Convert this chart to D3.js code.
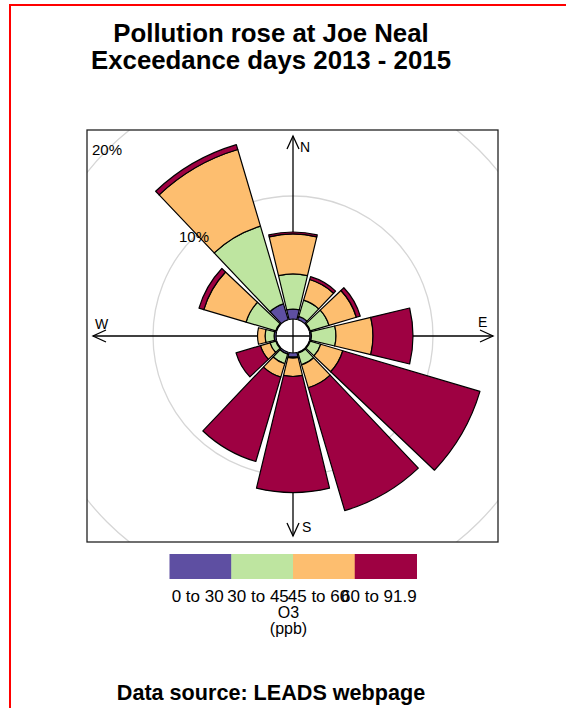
<!DOCTYPE html>
<html>
<head>
<meta charset="utf-8">
<script src="https://cdn.jsdelivr.net/npm/d3@7"></script>
<style>
  html, body { margin: 0; padding: 0; background: #ffffff; }
  svg { display: block; font-family: "Liberation Sans", Arial, sans-serif; }
</style>
</head>
<body>
<svg id="chart" width="566" height="708"></svg>
<script>
// Wind sectors (degrees clockwise from north)
const directions = [0, 30, 60, 90, 120, 150, 180, 210, 240, 270, 300, 330];

// O3 concentration bands (ppb) and their colours
const bandLabels = ["0 to 30", "30 to 45", "45 to 60", "60 to 91.9"];
const bandColors = ["#5E4FA2", "#BEE5A0", "#FDBE6F", "#9E0142"];

// Frequency (% of hours) per sector for each band
const band0to30  = [0.81, 0.28, 0.08, 0.12, 0.08, 0.08, 0.33, 0.16, 0.08, 0.16, 0.08, 1.34];
const band30to45 = [2.85, 1.38, 1.59, 1.99, 0.89, 0.98, 0.08, 0.81, 0.49, 0.73, 2.52, 6.59];
const band45to60 = [3.25, 1.75, 2.32, 3.01, 1.87, 1.95, 1.50, 1.14, 0.81, 0.61, 3.58, 6.50];
const band60to92 = [0.16, 0.24, 0.33, 3.25, 11.63, 10.41, 9.43, 7.15, 2.07, 0.00, 0.41, 0.41];

// Grid rings (%)
const gridValues = [10, 20, 30];
const gridLabels = ["10%", "20%", "30%"];

const bands = [band0to30, band30to45, band45to60, band60to92];

const svg = d3.select("#chart");

// page border
svg.append("rect")
  .attr("x", 10).attr("y", 5).attr("width", 620).attr("height", 760)
  .attr("fill", "none").attr("stroke", "#ff0000").attr("stroke-width", 2);

// titles
svg.append("text").attr("x", 271).attr("y", 42).attr("text-anchor", "middle")
  .attr("font-size", 25.8).attr("font-weight", "bold").text("Pollution rose at Joe Neal");
svg.append("text").attr("x", 271).attr("y", 68.5).attr("text-anchor", "middle")
  .attr("font-size", 25.8).attr("font-weight", "bold").text("Exceedance days 2013 - 2015");

// plot panel
const panel = { x0: 87, y0: 130, x1: 498, y1: 542 };
const cx = 293, cy = 336;

svg.append("clipPath").attr("id", "panelClip")
  .append("rect").attr("x", panel.x0).attr("y", panel.y0)
  .attr("width", panel.x1 - panel.x0).attr("height", panel.y1 - panel.y0);

// radial scale: offset hole in the middle, then linear in %
const r = d3.scaleLinear().domain([0, 20]).range([17, 263]);

const plot = svg.append("g").attr("clip-path", "url(#panelClip)");

// grid rings
plot.selectAll("circle.grid").data(gridValues).join("circle")
  .attr("class", "grid")
  .attr("cx", cx).attr("cy", cy).attr("r", d => r(d))
  .attr("fill", "none").attr("stroke", "#d6d6d6").attr("stroke-width", 1.3);

// compass axes with arrow heads
const axisLen = 200, head = 13, headW = 6;
const axes = svg.append("g").attr("stroke", "#000").attr("stroke-width", 1.3).attr("fill", "none");
axes.append("line").attr("x1", cx).attr("y1", cy - axisLen).attr("x2", cx).attr("y2", cy + axisLen);
axes.append("line").attr("x1", cx - axisLen).attr("y1", cy).attr("x2", cx + axisLen).attr("y2", cy);
[[0, -1], [0, 1], [-1, 0], [1, 0]].forEach(([dx, dy]) => {
  const tx = cx + dx * axisLen, ty = cy + dy * axisLen;
  const bx = tx - dx * head, by = ty - dy * head;
  const px = -dy * headW, py = dx * headW;
  axes.append("polyline")
    .attr("points", `${bx + px},${by + py} ${tx},${ty} ${bx - px},${by - py}`);
});

// stacked wedges
const half = 13.5 * Math.PI / 180;
const arc = d3.arc();
const segs = [];
directions.forEach((dir, i) => {
  let cum = 0;
  bands.forEach((b, j) => {
    const v = b[i];
    if (v > 0) {
      segs.push({ dir, j, inner: cum, outer: cum + v });
    }
    cum += v;
  });
});

svg.append("g").attr("transform", `translate(${cx},${cy})`)
  .selectAll("path").data(segs).join("path")
  .attr("d", d => arc({
    innerRadius: r(d.inner), outerRadius: r(d.outer),
    startAngle: d.dir * Math.PI / 180 - half, endAngle: d.dir * Math.PI / 180 + half
  }))
  .attr("fill", d => bandColors[d.j])
  .attr("stroke", "#000").attr("stroke-width", 1.2).attr("stroke-linejoin", "round");

// ring labels along the north-west diagonal
const diag = Math.SQRT1_2;
svg.append("g").selectAll("text").data(gridValues.slice(0, 2)).join("text")
  .attr("x", d => cx - r(d) * diag)
  .attr("y", d => cy - r(d) * diag)
  .attr("dy", "0.36em")
  .attr("text-anchor", "middle").attr("font-size", 15)
  .text((d, i) => gridLabels[i]);

// compass letters
const compass = [["N", 300, 152], ["E", 478, 327], ["S", 302, 532], ["W", 95, 329]];
svg.append("g").selectAll("text").data(compass).join("text")
  .attr("x", d => d[1]).attr("y", d => d[2]).attr("font-size", 14).text(d => d[0]);

// panel frame
svg.append("rect").attr("x", panel.x0).attr("y", panel.y0)
  .attr("width", panel.x1 - panel.x0).attr("height", panel.y1 - panel.y0)
  .attr("fill", "none").attr("stroke", "#222").attr("stroke-width", 1.3);

// colour key
const keyX = d3.scaleBand().domain(bandLabels).range([169.5, 416.5]);
const keyLabelX = d3.scalePoint().domain(bandLabels).range([197.7, 378.9]);
const key = svg.append("g");
key.selectAll("rect").data(bandLabels).join("rect")
  .attr("x", d => keyX(d)).attr("y", 554)
  .attr("width", keyX.bandwidth() + 0.5).attr("height", 25)
  .attr("fill", (d, i) => bandColors[i]);
key.selectAll("text").data(bandLabels).join("text")
  .attr("x", d => keyLabelX(d)).attr("y", 602)
  .attr("text-anchor", "middle").attr("font-size", 17).text(d => d);
svg.append("text").attr("x", 288.5).attr("y", 618).attr("text-anchor", "middle")
  .attr("font-size", 16).text("O3");
svg.append("text").attr("x", 288.5).attr("y", 634).attr("text-anchor", "middle")
  .attr("font-size", 16).text("(ppb)");

// footer
svg.append("text").attr("x", 271).attr("y", 700).attr("text-anchor", "middle")
  .attr("font-size", 21.6).attr("font-weight", "bold").text("Data source: LEADS webpage");
</script>
</body>
</html>
